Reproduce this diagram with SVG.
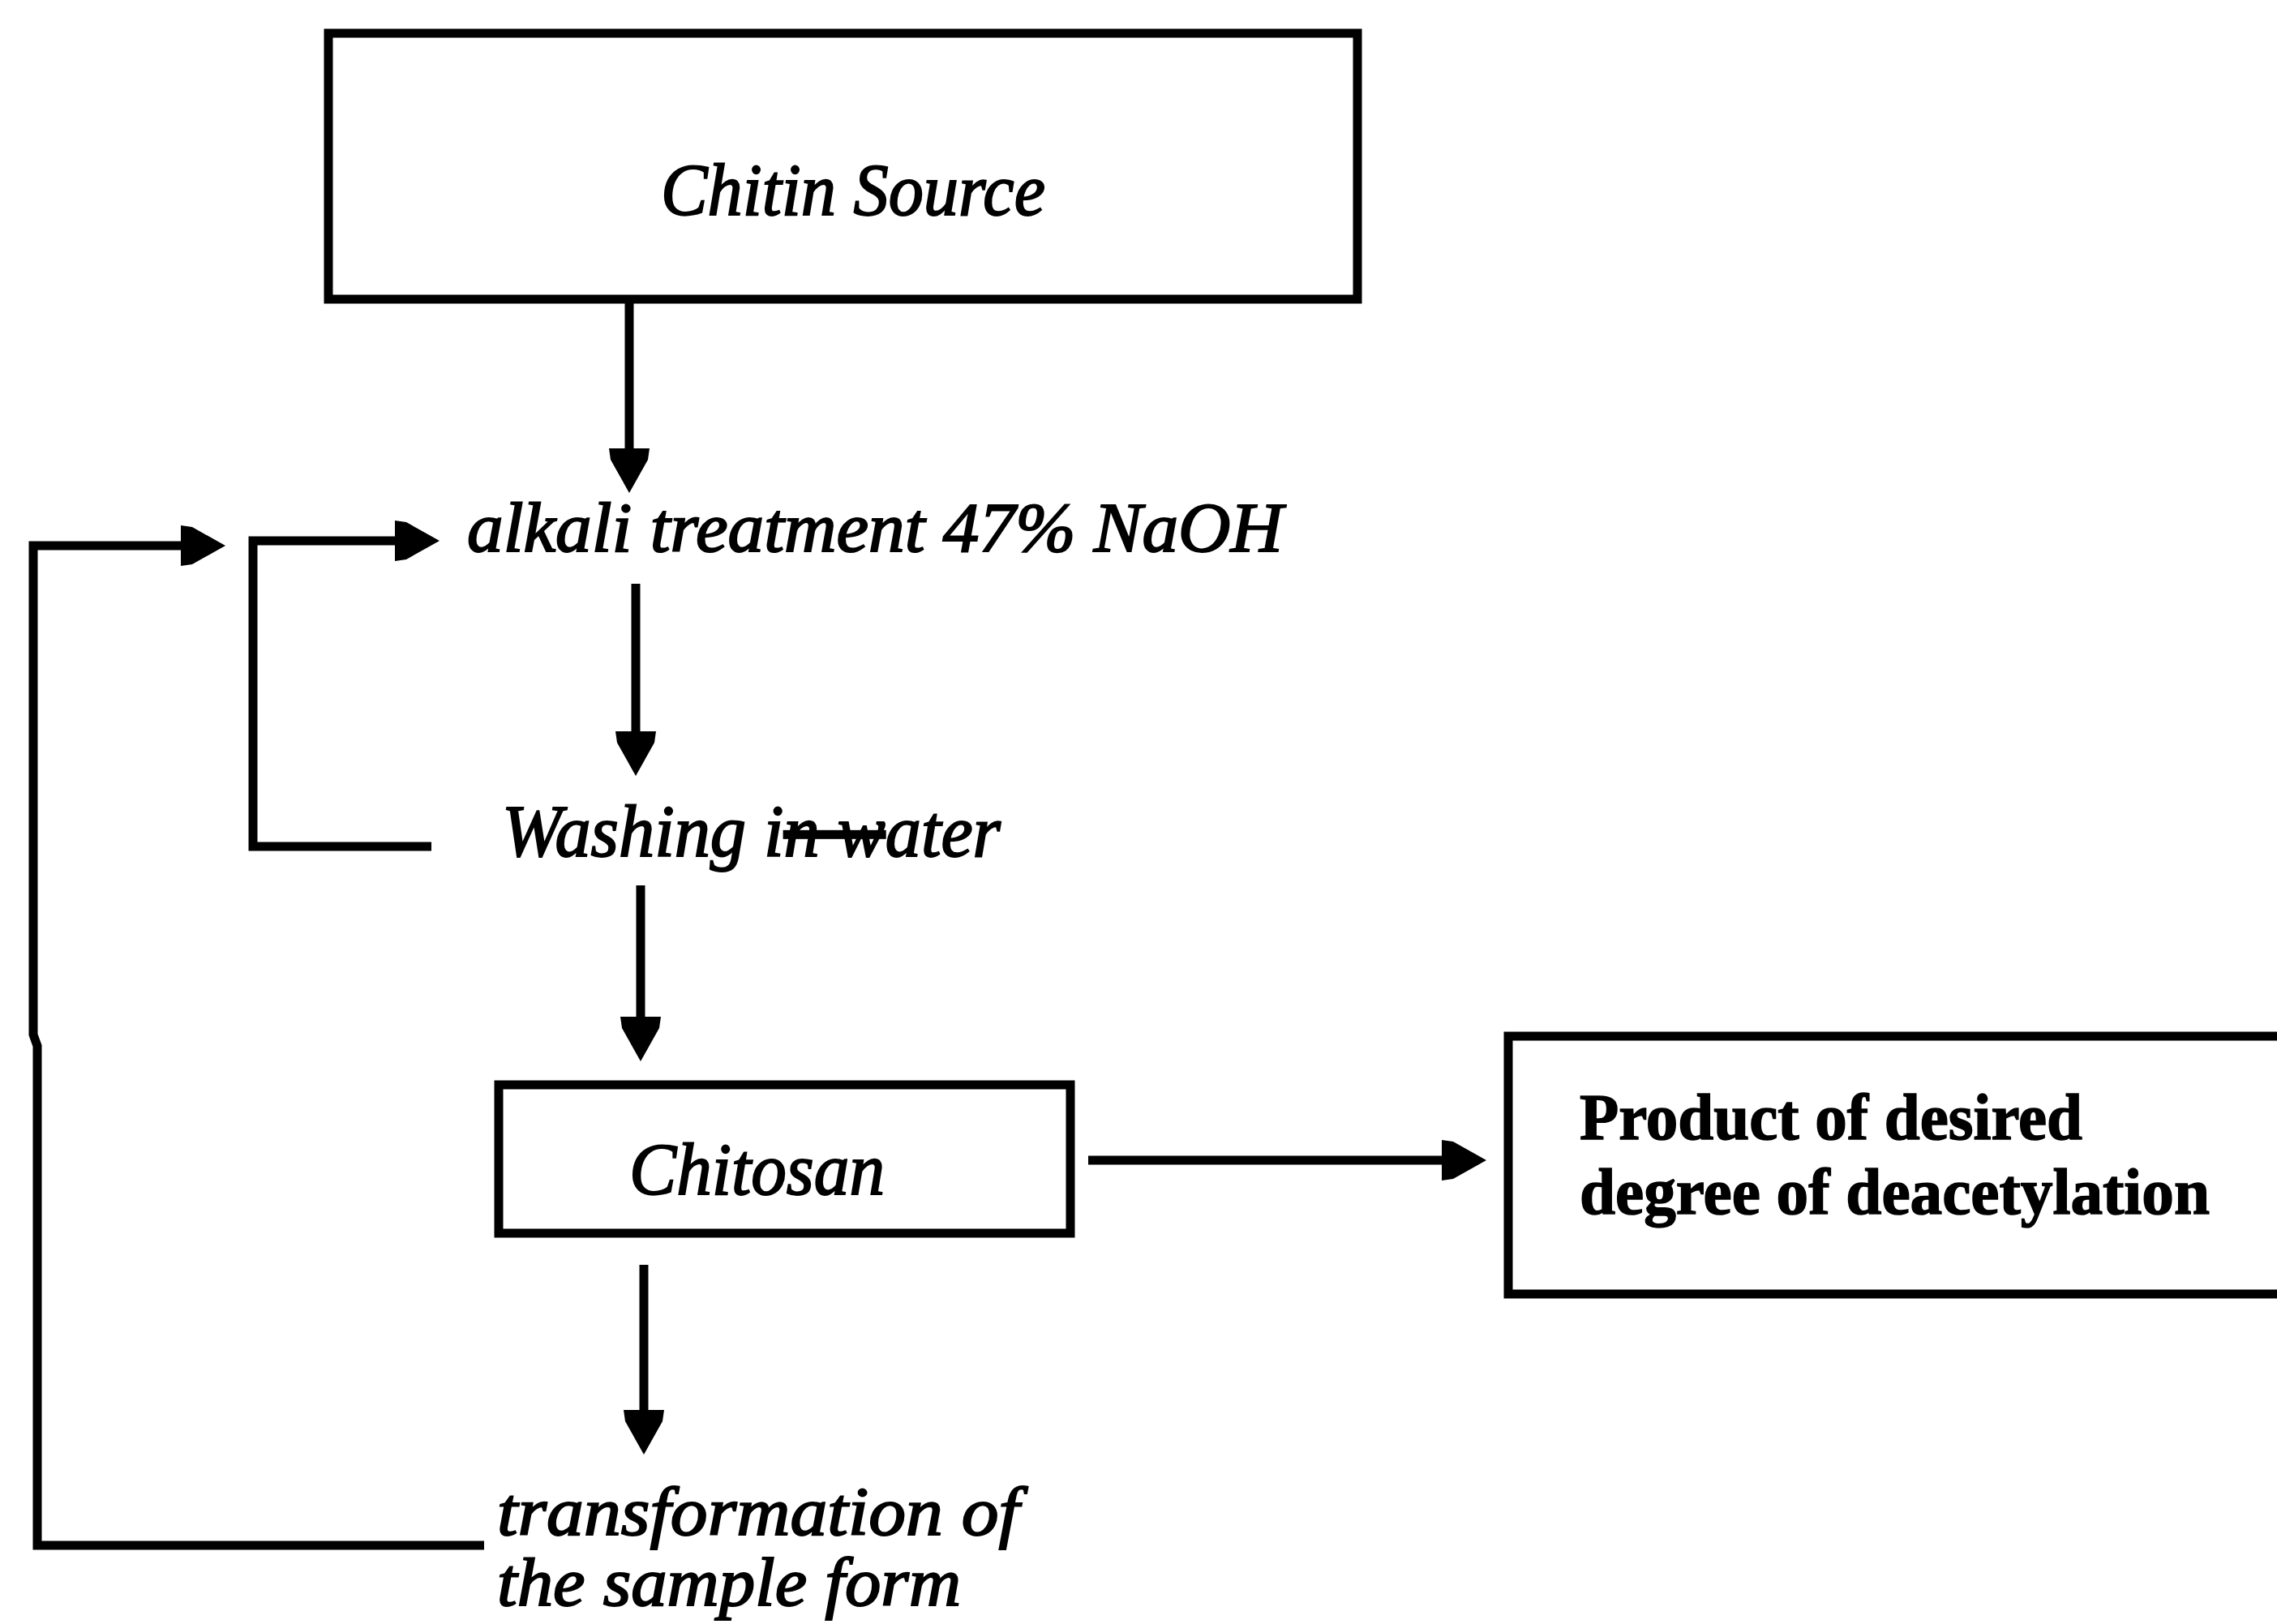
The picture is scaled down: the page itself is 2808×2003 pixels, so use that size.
<svg xmlns="http://www.w3.org/2000/svg" width="2808" height="2003" viewBox="0 0 2808 2003">
<style>
.box{fill:#fff;stroke:#000;stroke-width:11}
.ln{fill:none;stroke:#000;stroke-width:11;stroke-linejoin:miter}
.it{font-family:"Liberation Serif",serif;font-style:italic;fill:#000;stroke:#000;stroke-width:2}
.bd{font-family:"Liberation Serif",serif;font-weight:bold;fill:#000;stroke:#000;stroke-width:1.5}
</style>
<defs>
<marker id="ah" markerUnits="userSpaceOnUse" viewBox="0 -26 56 52" refX="0" refY="0" markerWidth="56" markerHeight="52" orient="auto" overflow="visible">
<path d="M0,-25 L14,-23 L55,0 L14,23 L0,25 Z" fill="#000"/>
</marker>
</defs>
<rect width="2808" height="2003" fill="#fff"/>
<g id="connectors">
<line class="ln" x1="776" y1="372" x2="776" y2="553" marker-end="url(#ah)"/>
<line class="ln" x1="784" y1="720" x2="784" y2="902" marker-end="url(#ah)"/>
<line class="ln" x1="790" y1="1092" x2="790" y2="1254" marker-end="url(#ah)"/>
<line class="ln" x1="794" y1="1560" x2="794" y2="1739" marker-end="url(#ah)"/>
<line class="ln" x1="1342" y1="1431" x2="1778" y2="1431" marker-end="url(#ah)"/>
<path class="ln" d="M597,1906 H46 V1290 L41,1276 V673 H223" marker-end="url(#ah)"/>
<path class="ln" d="M532,1044 H312 V667 H487" marker-end="url(#ah)"/>
</g>
<g id="chitin-source">
<rect class="box" x="405" y="41" width="1269" height="328"/>
<text class="it" x="815" y="265" font-size="92" textLength="474" lengthAdjust="spacingAndGlyphs">Chitin Source</text>
</g>
<g id="alkali-treatment">
<text class="it" x="576" y="680" font-size="86" textLength="1006" lengthAdjust="spacingAndGlyphs">alkali treatment 47% NaOH</text>
</g>
<g id="washing">
<text class="it" x="619" y="1056" font-size="90" textLength="615" lengthAdjust="spacingAndGlyphs">Washing i<tspan text-decoration="line-through">n w</tspan>ater</text>
</g>
<g id="chitosan">
<rect class="box" x="615" y="1338" width="705" height="183"/>
<text class="it" x="776" y="1473" font-size="92" textLength="315" lengthAdjust="spacingAndGlyphs">Chitosan</text>
</g>
<g id="product">
<rect class="box" x="1860" y="1278" width="980" height="318"/>
<text class="bd" x="1948" y="1405" font-size="80" textLength="620" lengthAdjust="spacingAndGlyphs">Product of desired</text>
<text class="bd" x="1948" y="1497" font-size="80" textLength="777" lengthAdjust="spacingAndGlyphs">degree of deacetylation</text>
</g>
<g id="transformation">
<text class="it" x="613" y="1893" font-size="84" textLength="644" lengthAdjust="spacingAndGlyphs">transformation of</text>
<text class="it" x="613" y="1980" font-size="84" textLength="572" lengthAdjust="spacingAndGlyphs">the sample form</text>
</g>
</svg>
